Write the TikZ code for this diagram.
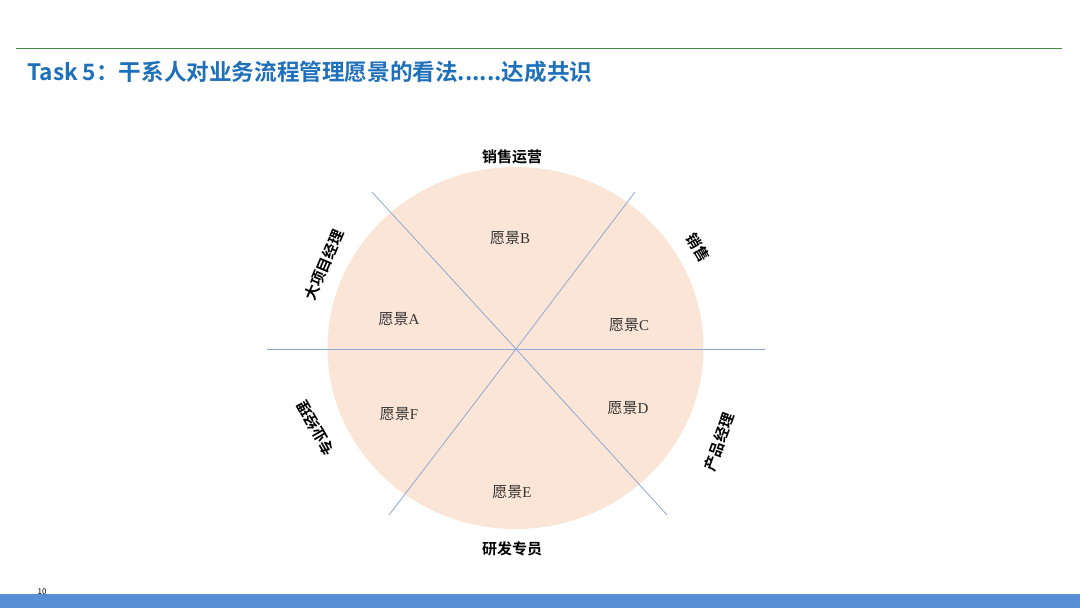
\documentclass[tikz,border=0pt]{standalone}
\usepackage{fontspec}
\setmainfont{Liberation Serif}
\newfontfamily\cjk{Noto Sans CJK SC}[BoldFont=Noto Sans CJK SC Bold]
\usepackage{xcolor}
\definecolor{titleblue}{RGB}{31,112,186}
\definecolor{rulegreen}{RGB}{70,140,70}
\definecolor{barblue}{RGB}{88,142,212}
\definecolor{peach}{RGB}{251,229,214}
\definecolor{axisblue}{RGB}{143,168,214}
\newcommand{\yj}[1]{{\cjk 愿景}#1}

\begin{document}
\begin{tikzpicture}[x=1pt,y=1pt,
  role/.style={font=\cjk\bfseries\fontsize{15}{15}\selectfont, inner sep=0pt},
  vision/.style={font=\fontsize{15}{15}\selectfont, text=black!80, inner sep=0pt},
  axis/.style={axisblue, line width=0.8pt}]
\useasboundingbox (0,0) rectangle (1080,608);
% frame
\fill [white] (0,0) rectangle (1080,608);
\fill [barblue] (0,0) rectangle (1080,14);
\draw [rulegreen, line width=0.9pt] (16,560) -- (1062,560);
\node [anchor=west, titleblue, inner sep=0pt, font=\cjk\bfseries\fontsize{22.6}{22.6}\selectfont] (title) at (27,536) {Task 5：干系人对业务流程管理愿景的看法......达成共识};
\node [font=\cjk\fontsize{8}{8}\selectfont, inner sep=0pt] (page) at (42,16) {10};
% circle and axes
\fill [peach] (515.5,260) ellipse [x radius=188, y radius=181];
\coordinate (o) at (516,259);
\coordinate (w) at (267,259);  \coordinate (e) at (765,259);
\coordinate (nw) at (372,416); \coordinate (se) at (667,93);
\coordinate (ne) at (635,416); \coordinate (sw) at (389,93);
\draw [axis] (w) -- (e);
\draw [axis] (nw) -- (o) -- (se);
\draw [axis] (ne) -- (o) -- (sw);
% visions
\node [vision] (va) at (399,289) {\yj{A}};
\node [vision] (vb) at (510,370) {\yj{B}};
\node [vision] (vc) at (629,283) {\yj{C}};
\node [vision] (vd) at (628,200) {\yj{D}};
\node [vision] (ve) at (512,116) {\yj{E}};
\node [vision] (vf) at (399,194) {\yj{F}};
% stakeholders
\node [role] (ops) at (512,451) {销售运营};
\node [role, rotate=-60] (sales) at (698,360) {销售};
\node [role, rotate=70] (pm) at (719,166) {产品经理};
\node [role] (rd) at (512,59) {研发专员};
\node [role, rotate=120] (biz) at (316,180) {专业经理};
\node [role, rotate=67] (bigpm) at (324,343) {大项目经理};
\end{tikzpicture}
\end{document}
